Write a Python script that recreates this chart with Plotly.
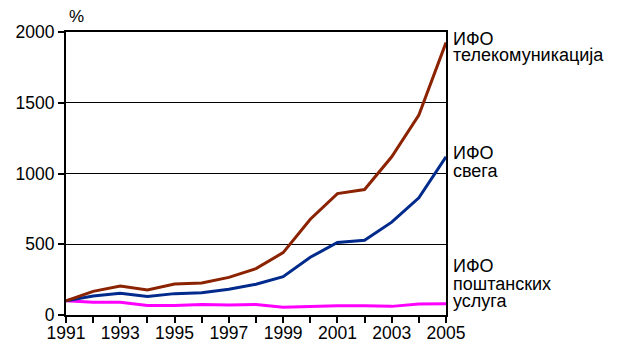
import plotly.graph_objects as go

godine = list(range(1991, 2006))
ifo_telekom = [100, 167, 205, 177, 219, 226, 266, 328, 441, 677, 858, 887, 1118, 1413, 1925]
ifo_svega = [100, 134, 153, 130, 151, 158, 182, 217, 271, 408, 512, 528, 656, 828, 1118]
ifo_posta = [100, 90, 90, 68, 68, 75, 71, 75, 54, 61, 66, 66, 61, 78, 80]

font = "Liberation Sans, Arial, sans-serif"

fig = go.Figure()
fig.add_trace(go.Scatter(x=godine, y=ifo_posta, mode="lines",
                         line=dict(color="#ff00ff", width=3)))
fig.add_trace(go.Scatter(x=godine, y=ifo_svega, mode="lines",
                         line=dict(color="#002a8c", width=3)))
fig.add_trace(go.Scatter(x=godine, y=ifo_telekom, mode="lines",
                         line=dict(color="#8b2200", width=3)))

# oznake desno od grafikona, svaki red posebno (gusti prored)
redovi = [("ИФО", 0.974), ("телекомуникација", 0.917),
          ("ИФО", 0.573), ("свега", 0.508),
          ("ИФО", 0.172), ("поштанских", 0.108), ("услуга", 0.048)]
for tekst, y in redovi:
    fig.add_annotation(text=tekst, x=1, xref="paper", xanchor="left", xshift=5,
                       y=y, yref="paper", yanchor="middle", showarrow=False,
                       align="left", font=dict(family=font, size=18, color="black"))

fig.add_annotation(text="%", x=0, xref="paper", xanchor="left", xshift=1,
                   y=1, yref="paper", yanchor="bottom", yshift=4, showarrow=False,
                   font=dict(family=font, size=17, color="black"))

# stranica ima marginu od 8px, pa je sve pomereno za toliko
fig.update_layout(
    width=617, height=340,
    margin=dict(l=58, r=179, t=24, b=33, autoexpand=False),
    paper_bgcolor="white", plot_bgcolor="white",
    showlegend=False,
    font=dict(family=font, size=17.5, color="black"),
)
fig.update_xaxes(range=[1991, 2005], tick0=1991, dtick=2, ticks="outside", ticklen=6,
                 tickcolor="black", tickwidth=1.5, showgrid=False, zeroline=False,
                 showline=True, linecolor="black", linewidth=2, mirror=True,
                 automargin=False, ticklabelstandoff=-5,
                 minor=dict(dtick=1, tick0=1991, ticks="outside", ticklen=6,
                            tickcolor="black", tickwidth=1.5))
fig.update_yaxes(range=[0, 2000], tick0=0, dtick=500, ticks="outside", ticklen=6,
                 tickcolor="black", tickwidth=1.5, showgrid=True, gridcolor="black",
                 gridwidth=1, zeroline=False, showline=True, linecolor="black",
                 linewidth=2, mirror=True, automargin=False)

fig.write_html("out.html")
